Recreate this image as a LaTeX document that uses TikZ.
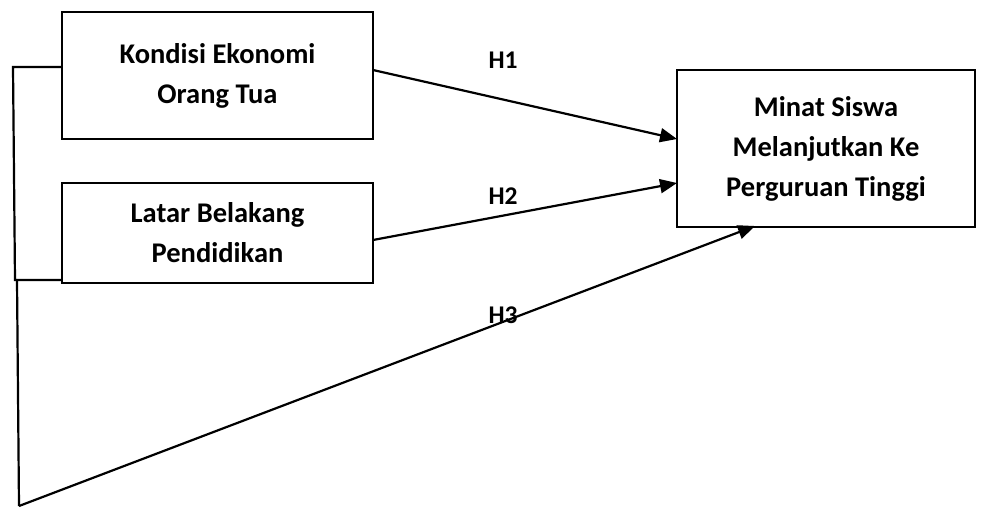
\documentclass[tikz,border=0pt]{standalone}
\usepackage{fontspec}
\setmainfont{Carlito}
\usetikzlibrary{arrows.meta}
\begin{document}
\begin{tikzpicture}[x=1pt,y=-1pt,
  box/.style={draw, line width=1.5pt, inner sep=0pt, align=center, font=\fontsize{28.5}{40}\selectfont\bfseries},
  conn/.style={line width=2.2pt},
  arr/.style={conn, -{Triangle[length=17pt,width=14pt]}},
  hlabel/.style={anchor=base, inner sep=0pt, font=\fontsize{25.5}{30}\selectfont\bfseries}]
\useasboundingbox (0,0) rectangle (984,509);
\node[box, minimum width=311pt, minimum height=127pt] (b1) at (217.5,75.5) {Kondisi Ekonomi\\Orang Tua};
\node[box, minimum width=311pt, minimum height=100pt] (b2) at (217.5,233) {Latar Belakang\\Pendidikan};
\node[box, minimum width=298pt, minimum height=157pt] (b3) at (826,148.5) {Minat Siswa\\Melanjutkan Ke\\Perguruan Tinggi};
% bracket
\coordinate (t1) at (62,67);
\coordinate (t2) at (13,67);
\coordinate (t3) at (15,280);
\coordinate (t4) at (62,280);
\coordinate (t5) at (17,280);
\coordinate (t6) at (19,506);
\coordinate (h1s) at (373,70);
\coordinate (h1e) at (677,139);
\coordinate (h2s) at (373,240);
\coordinate (h2e) at (677,183);
\coordinate (h3e) at (755,226);
\draw[conn] (t1) -- (t2) -- (t3) -- (t4);
\draw[conn] (t5) -- (t6);
\draw[arr] (h1s) -- (h1e);
\draw[arr] (h2s) -- (h2e);
\draw[arr] (t6) -- (h3e);
\node[hlabel] (l1) at (503,68) {H1};
\node[hlabel] (l2) at (503,204) {H2};
\node[hlabel] (l3) at (503,323) {H3};
\end{tikzpicture}
\end{document}
